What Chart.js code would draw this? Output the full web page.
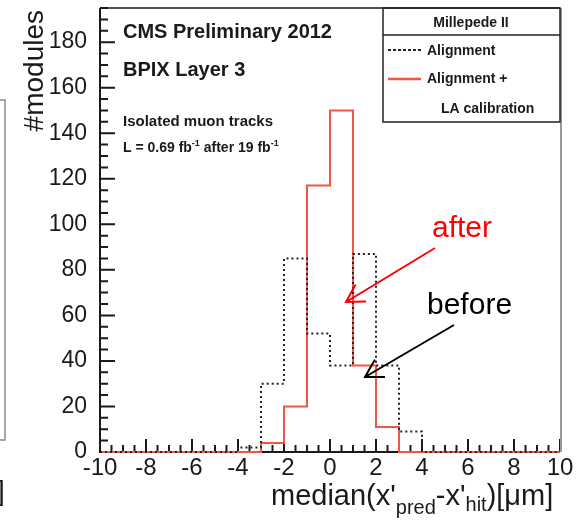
<!DOCTYPE html>
<html>
<head>
<meta charset="utf-8">
<script src="https://cdn.jsdelivr.net/npm/chart.js@4.4.1/dist/chart.umd.min.js"></script>
<style>
  html, body { margin: 0; padding: 0; background: #fff; }
  #histo { display: block; }
</style>
</head>
<body>
<canvas id="histo" width="577" height="526"></canvas>
<script>
// bin low edges, 1 um wide bins from -10 to 10
const binLow = [-10, -9, -8, -7, -6, -5, -4, -3, -2, -1, 0, 1, 2, 3, 4, 5, 6, 7, 8, 9];
const binWidth = 1;
// modules per bin
const alignOnly = [0, 0, 0, 0, 0, 0, 2, 30, 85, 52, 38, 87, 38, 9, 0, 0, 0, 0, 0, 0];
const alignLA   = [0, 0, 0, 0, 0, 0, 0, 4, 20, 117, 150, 38, 11, 0, 0, 0, 0, 0, 0, 0];
const xTicks = [-10, -8, -6, -4, -2, 0, 2, 4, 6, 8, 10];
const yTicks = [0, 20, 40, 60, 80, 100, 120, 140, 160, 180];

const FONT = '"Liberation Sans", Arial, Helvetica, sans-serif';
const RED = 'rgb(240, 86, 70)';
const DARK = '#1a1a1a';

// turn bin contents into step points: each left edge plus the last right edge
function steps(counts) {
  const pts = binLow.map((x, i) => ({ x: x, y: counts[i] }));
  pts.push({ x: binLow[binLow.length - 1] + binWidth, y: counts[counts.length - 1] });
  return pts;
}

function arrow(ctx, x0, y0, x1, y1, color) {
  ctx.save();
  ctx.strokeStyle = color;
  ctx.lineWidth = 2;
  ctx.beginPath();
  ctx.moveTo(x0, y0);
  ctx.lineTo(x1, y1);
  const a = Math.atan2(y0 - y1, x0 - x1);
  const len = 20;
  ctx.moveTo(x1 + len * Math.cos(a + Math.PI / 6), y1 + len * Math.sin(a + Math.PI / 6));
  ctx.lineTo(x1, y1);
  ctx.lineTo(x1 + len * Math.cos(a - Math.PI / 6), y1 + len * Math.sin(a - Math.PI / 6));
  ctx.stroke();
  ctx.restore();
}

// draws text pieces one after another, some shifted as sub/superscripts
function runs(ctx, x, y, parts) {
  parts.forEach(p => {
    ctx.font = p.font;
    ctx.fillText(p.t, x, y + (p.dy || 0));
    x += ctx.measureText(p.t).width;
  });
}

const rootFrame = {
  id: 'rootFrame',
  beforeDatasetsDraw(chart) {
    const ctx = chart.ctx;
    const a = chart.chartArea;
    const xs = chart.scales.x, ys = chart.scales.y;
    ctx.save();
    ctx.strokeStyle = DARK;
    ctx.lineWidth = 2;
    // inward tick marks
    ctx.beginPath();
    for (let v = -10; v <= 10; v += 0.5) {
      const px = xs.getPixelForValue(v);
      const l = (v % 2 === 0) ? 13 : 7;
      ctx.moveTo(px, a.bottom);
      ctx.lineTo(px, a.bottom - l);
    }
    for (let v = 0; v <= 195; v += 5) {
      const py = ys.getPixelForValue(v);
      const l = (v % 20 === 0) ? 15 : 8;
      ctx.moveTo(a.left, py);
      ctx.lineTo(a.left + l, py);
    }
    ctx.stroke();
    // frame
    ctx.beginPath();
    ctx.moveTo(a.left, a.top);
    ctx.lineTo(a.left, a.bottom);
    ctx.lineTo(a.right, a.bottom);
    ctx.stroke();
    ctx.lineWidth = 1.5;
    ctx.beginPath();
    ctx.moveTo(a.left, a.top);
    ctx.lineTo(a.right, a.top);
    ctx.stroke();
    ctx.strokeStyle = '#9a9a9a';
    ctx.lineWidth = 2;
    ctx.beginPath();
    ctx.moveTo(a.right + 1, a.top);
    ctx.lineTo(a.right + 1, a.bottom);
    ctx.stroke();
    ctx.restore();
  },
  afterDraw(chart) {
    const ctx = chart.ctx;
    ctx.save();
    ctx.fillStyle = DARK;
    ctx.textBaseline = 'alphabetic';

    // axis titles
    ctx.save();
    ctx.translate(43, 10);
    ctx.rotate(-Math.PI / 2);
    ctx.textAlign = 'right';
    ctx.font = '28px ' + FONT;
    ctx.fillText('#modules', 0, 0);
    ctx.restore();

    ctx.textAlign = 'left';
    runs(ctx, 271, 505, [
      { t: "median(x'", font: '29px ' + FONT },
      { t: 'pred', font: '20px ' + FONT, dy: 9 },
      { t: "-x'", font: '29px ' + FONT },
      { t: 'hit', font: '20px ' + FONT, dy: 6 },
      { t: ')[\u03bcm]', font: '29px ' + FONT }
    ]);

    // labels in the pad
    ctx.font = 'bold 20px ' + FONT;
    ctx.fillText('CMS Preliminary 2012', 123, 38);
    ctx.fillText('BPIX Layer 3', 123, 76);
    ctx.font = 'bold 15px ' + FONT;
    ctx.fillText('Isolated muon tracks', 123, 126);
    runs(ctx, 123, 152, [
      { t: 'L = 0.69 fb', font: 'bold 14px ' + FONT },
      { t: '-1', font: 'bold 9px ' + FONT, dy: -6 },
      { t: ' after 19 fb', font: 'bold 14px ' + FONT },
      { t: '-1', font: 'bold 9px ' + FONT, dy: -6 }
    ]);

    // legend box
    const lx0 = 383, lx1 = 560, ly0 = 8, ly1 = 122;
    ctx.strokeStyle = '#222';
    ctx.lineWidth = 1.5;
    ctx.strokeRect(lx0, ly0, lx1 - lx0, ly1 - ly0);
    ctx.beginPath();
    ctx.moveTo(lx0, 35);
    ctx.lineTo(lx1, 35);
    ctx.stroke();
    ctx.textAlign = 'center';
    ctx.font = 'bold 14px ' + FONT;
    ctx.fillText('Millepede II', 471, 27);
    ctx.textAlign = 'left';
    ctx.fillText('Alignment', 427, 55);
    ctx.fillText('Alignment +', 427, 83);
    ctx.fillText('LA calibration', 441, 113);
    ctx.lineWidth = 2;
    ctx.strokeStyle = '#222';
    ctx.setLineDash([3, 2]);
    ctx.beginPath();
    ctx.moveTo(388, 50);
    ctx.lineTo(421, 50);
    ctx.stroke();
    ctx.setLineDash([]);
    ctx.strokeStyle = RED;
    ctx.lineWidth = 2.5;
    ctx.beginPath();
    ctx.moveTo(388, 79);
    ctx.lineTo(421, 79);
    ctx.stroke();

    // annotations
    ctx.font = '30px ' + FONT;
    ctx.fillStyle = '#ff0000';
    ctx.fillText('after', 432, 237);
    ctx.fillStyle = '#000';
    ctx.fillText('before', 427, 314);
    arrow(ctx, 435, 248, 346, 302, '#ff0000');
    arrow(ctx, 454, 325, 365, 377, '#000');

    // edge of the neighbouring pad
    ctx.strokeStyle = '#8a8a8a';
    ctx.lineWidth = 1.5;
    ctx.beginPath();
    ctx.moveTo(0, 100);
    ctx.lineTo(5, 100);
    ctx.lineTo(5, 440);
    ctx.lineTo(0, 440);
    ctx.stroke();
    ctx.fillStyle = DARK;
    ctx.font = '28px ' + FONT;
    ctx.fillText(']', -3, 500);
    ctx.restore();
  }
};

new Chart(document.getElementById('histo'), {
  type: 'line',
  data: {
    datasets: [{
      label: 'Alignment',
      data: steps(alignOnly),
      stepped: 'before',
      borderColor: '#222',
      borderWidth: 2,
      borderDash: [2, 3],
      pointRadius: 0,
      fill: false,
      clip: 4
    }, {
      label: 'Alignment + LA calibration',
      data: steps(alignLA),
      stepped: 'before',
      borderColor: RED,
      borderWidth: 2,
      pointRadius: 0,
      fill: false,
      clip: 4
    }]
  },
  options: {
    responsive: false,
    animation: false,
    layout: { padding: { left: 0, right: 17, top: 8, bottom: 0 } },
    plugins: { legend: { display: false }, tooltip: { enabled: false } },
    scales: {
      x: {
        type: 'linear',
        min: -10,
        max: 10,
        grid: { display: false },
        border: { display: false },
        afterFit: s => { s.height = 74; s.paddingLeft = 0; s.paddingRight = 0; },
        afterBuildTicks: s => { s.ticks = xTicks.map(v => ({ value: v })); },
        ticks: {
          color: DARK,
          padding: -6,
          maxRotation: 0,
          autoSkip: false,
          font: { family: FONT, size: 24 }
        }
      },
      y: {
        min: 0,
        max: 195,
        grid: { display: false },
        border: { display: false },
        afterFit: s => { s.width = 100; s.paddingTop = 0; s.paddingBottom = 0; },
        afterBuildTicks: s => { s.ticks = yTicks.map(v => ({ value: v })); },
        ticks: {
          color: DARK,
          padding: 5,
          autoSkip: false,
          font: { family: FONT, size: 23 }
        }
      }
    }
  },
  plugins: [rootFrame]
});
</script>
</body>
</html>
